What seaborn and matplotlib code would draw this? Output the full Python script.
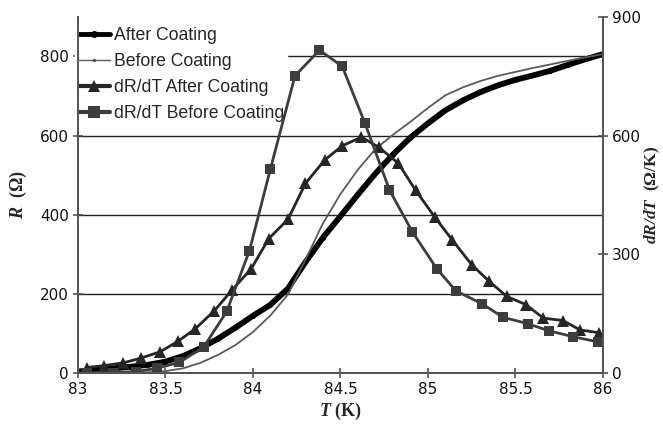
import matplotlib
matplotlib.use("Agg")
import matplotlib.pyplot as plt
from matplotlib.lines import Line2D
import seaborn as sns
import pandas as pd

# Resistance curves, temperature in K, resistance in ohm
temp_r = [83.0, 83.1, 83.2, 83.3, 83.4, 83.5, 83.6, 83.7, 83.8, 83.9,
          84.0, 84.1, 84.2, 84.3, 84.4, 84.5, 84.6, 84.7, 84.8, 84.9,
          85.0, 85.1, 85.2, 85.3, 85.4, 85.5, 85.6, 85.7, 85.8, 85.9, 86.0]
r_after = [3, 7, 11, 15, 20, 28, 42, 62, 86, 114,
           144, 172, 213, 280, 342, 396, 451, 504, 552, 595,
           631, 664, 689, 710, 727, 741, 752, 764, 779, 793, 806]
r_before = [0, 0, 0, 0, 1, 4, 11, 25, 45, 70,
            103, 145, 198, 286, 378, 452, 514, 566, 602, 635,
            670, 702, 722, 738, 751, 761, 771, 780, 789, 798, 806]

# Derivative curves (ohm/K)
temp_d_after = [83.05, 83.15, 83.26, 83.36, 83.47, 83.57, 83.67, 83.78, 83.88, 83.99,
                84.09, 84.20, 84.30, 84.41, 84.51, 84.62, 84.72, 84.83, 84.93, 85.04,
                85.14, 85.25, 85.35, 85.45, 85.56, 85.66, 85.77, 85.87, 85.98]
d_after = [13, 18, 25, 37, 53, 79, 111, 157, 209, 263,
           339, 388, 479, 538, 574, 596, 570, 530, 461, 393,
           335, 273, 231, 193, 172, 138, 132, 108, 101]
temp_d_before = [83.05, 83.20, 83.33, 83.45, 83.58, 83.72, 83.85, 83.98, 84.10, 84.24,
                 84.38, 84.51, 84.64, 84.78, 84.91, 85.05, 85.16, 85.31, 85.43, 85.57,
                 85.69, 85.83, 85.97]
d_before = [0, 0, 3, 11, 26, 66, 155, 309, 516, 751,
            816, 775, 631, 462, 357, 263, 207, 174, 140, 124,
            106, 91, 78]

x_ticks = [83, 83.5, 84, 84.5, 85, 85.5, 86]
x_tick_labels = ["83", "83.5", "84", "84.5", "85", "85.5", "86"]
left_ticks = [0, 200, 400, 600, 800]
right_ticks = [0, 300, 600, 900]
series_names = ["After Coating", "Before Coating",
                "dR/dT After Coating", "dR/dT Before Coating"]

sns.set_theme(style="white")
plt.rcParams["font.family"] = ["DejaVu Sans"]
plt.rcParams["mathtext.fontset"] = "custom"
plt.rcParams["mathtext.bfit"] = "Liberation Serif:italic:bold"
plt.rcParams["mathtext.bf"] = "Liberation Serif:bold"
plt.rcParams["mathtext.rm"] = "Liberation Serif"
plt.rcParams["mathtext.it"] = "Liberation Serif:italic"

fig = plt.figure(figsize=(6.63, 4.24), dpi=100)
ax = fig.add_axes([0.1176, 0.121, 0.7919, 0.839])
ax2 = ax.twinx()

df_r = pd.DataFrame({"T": temp_r, "after": r_after, "before": r_before})
df_da = pd.DataFrame({"T": temp_d_after, "d": d_after})
df_db = pd.DataFrame({"T": temp_d_before, "d": d_before})

c_thick = "#000000"
c_thin = "#5a5a5a"
c_tri = "#262626"
c_sq = "#3d3d3d"

sns.lineplot(data=df_r, x="T", y="after", ax=ax, color=c_thick, lw=4.2,
             marker="o", markersize=3.5, markeredgewidth=0, sort=False, legend=False)
sns.lineplot(data=df_r, x="T", y="before", ax=ax, color=c_thin, lw=1.3,
             sort=False, legend=False)
sns.lineplot(data=df_da, x="T", y="d", ax=ax2, color=c_tri, lw=2.0,
             marker="^", markersize=8, markeredgewidth=0, sort=False, legend=False)
sns.lineplot(data=df_db, x="T", y="d", ax=ax2, color=c_sq, lw=2.0,
             marker="s", markersize=7.5, markeredgewidth=0, sort=False, legend=False)

ax.set_xlim(83, 86)
ax.set_ylim(0, 900)
ax2.set_ylim(0, 900)

ax.set_xticks(x_ticks)
ax.set_xticklabels(x_tick_labels)
ax.set_yticks(left_ticks)
ax2.set_yticks(right_ticks)

for a in (ax, ax2):
    a.tick_params(axis="both", direction="inout", length=7, width=1.1,
                  color="#444444", labelsize=11, labelcolor="#111111", pad=3)
    a.spines["top"].set_visible(False)
    for side in ("left", "right", "bottom"):
        a.spines[side].set_color("#555555")
        a.spines[side].set_linewidth(1.4)

ax.tick_params(axis="y", left=True, right=False)
ax.tick_params(axis="x", bottom=True)
ax2.tick_params(axis="y", right=True, left=False)

ax.yaxis.grid(True, color="#222222", lw=1.0)
ax.xaxis.grid(False)
ax.set_axisbelow(True)

label_font = dict(fontfamily="Liberation Serif", fontweight="bold", fontsize=13)
ax.set_xlabel(r"$\mathbfit{T}$ (K)", labelpad=3, **label_font)
ax.set_ylabel(r"$\mathbfit{R}$  (Ω)", labelpad=8, **label_font)
ax2.set_ylabel(r"$\mathbfit{dR/dT}$  (Ω/K)", labelpad=1, rotation=90,
               fontfamily="Liberation Serif", fontweight="bold", fontsize=12.5)

handles = [
    Line2D([], [], color=c_thick, lw=3.5, marker="o", markersize=4),
    Line2D([], [], color=c_thin, lw=1.0, marker="o", markersize=1.5),
    Line2D([], [], color=c_tri, lw=3.0, marker="^", markersize=9, markeredgewidth=0),
    Line2D([], [], color=c_sq, lw=3.0, marker="s", markersize=8.5, markeredgewidth=0),
]
# legend sits on the primary axes: above the grid, below the derivative curves
leg = ax.legend(handles, series_names, loc="upper left",
                bbox_to_anchor=(-0.005, 0.982), frameon=True, fancybox=False,
                framealpha=1.0, edgecolor="white", facecolor="white",
                prop={"family": "Liberation Sans", "size": 12.7},
                handlelength=1.75, handletextpad=0.22, labelspacing=0.51,
                borderpad=0.2, borderaxespad=0.0)
leg.set_zorder(5)

fig.savefig("out.png", dpi=100)
